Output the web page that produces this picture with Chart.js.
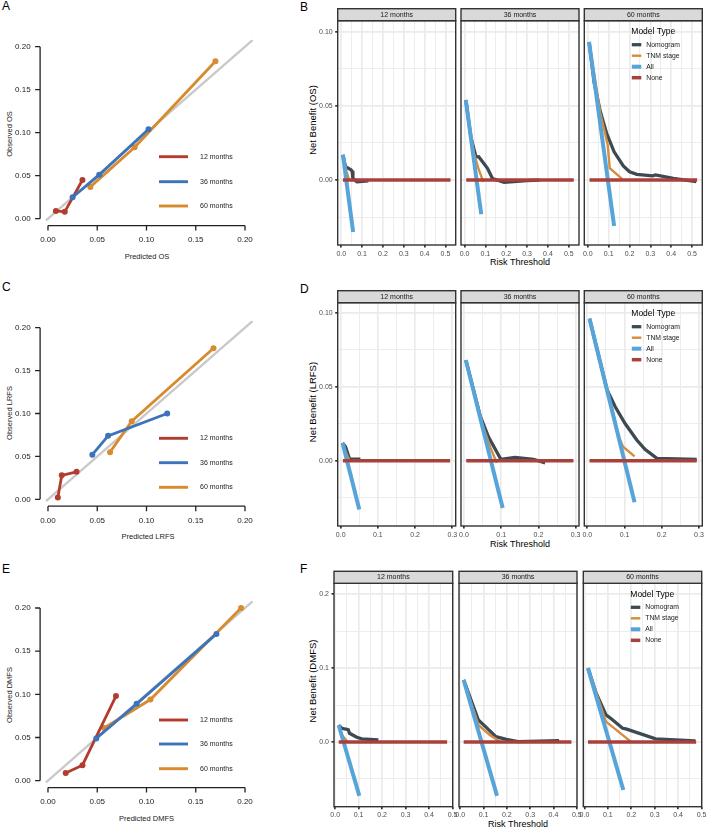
<!DOCTYPE html>
<html lang="en">
<head>
<meta charset="UTF-8">
<title>Calibration and decision curves</title>
<script src="https://cdn.jsdelivr.net/npm/chart.js"></script>
<style>
  body { margin: 0; background: #fff; font-family: "Liberation Sans", Arial, Helvetica, sans-serif; }
  #page { position: relative; width: 708px; height: 829px; overflow: hidden; }
  canvas { position: absolute; }
  .txt { position: absolute; white-space: nowrap; line-height: 1; transform: translate(-50%, -50%); color: #222; }
  .rot { transform: translate(-50%, -50%) rotate(-90deg); }
  .letter { position: absolute; font-size: 12px; line-height: 1; color: #000; }
</style>
</head>
<body>
<div id="page">
  <div class="letter" style="left:2px;top:0px">A</div>
  <div class="letter" style="left:300px;top:1px">B</div>
  <div class="letter" style="left:2px;top:281px">C</div>
  <div class="letter" style="left:300px;top:283px">D</div>
  <div class="letter" style="left:2px;top:563px">E</div>
  <div class="letter" style="left:300px;top:563px">F</div>

  <div class="txt rot" style="left:9.5px;top:134px;font-size:7.5px">Observed OS</div>
  <div class="txt" style="left:147px;top:257px;font-size:7.5px">Predicted OS</div>
  <div class="txt rot" style="left:9.5px;top:413px;font-size:7.5px">Observed LRFS</div>
  <div class="txt" style="left:148px;top:537px;font-size:7.5px">Predicted LRFS</div>
  <div class="txt rot" style="left:9.5px;top:695px;font-size:7.5px">Observed DMFS</div>
  <div class="txt" style="left:146.5px;top:819px;font-size:7.5px">Predicted DMFS</div>

  <div class="txt rot" style="left:313px;top:120px;font-size:9.5px;color:#000">Net Benefit (OS)</div>
  <div class="txt" style="left:520px;top:262px;font-size:9px;color:#000">Risk Threshold</div>
  <div class="txt rot" style="left:313px;top:402px;font-size:9.5px;color:#000">Net Benefit (LRFS)</div>
  <div class="txt" style="left:520px;top:543.5px;font-size:9px;color:#000">Risk Threshold</div>
  <div class="txt rot" style="left:313px;top:681px;font-size:9.5px;color:#000">Net Benefit (DMFS)</div>
  <div class="txt" style="left:518px;top:824px;font-size:9px;color:#000">Risk Threshold</div>
</div>

<script>
  // ---- calibration curves (predicted, observed) ----
  const calibLabels = ['12 months', '36 months', '60 months'];
  const calibTicks = [0, 0.05, 0.1, 0.15, 0.2];
  const idealLine = [[-0.002, -0.002], [0.208, 0.208]];

  const os12 = [[0.008, 0.009], [0.017, 0.008], [0.035, 0.045]];
  const os36 = [[0.025, 0.025], [0.052, 0.051], [0.102, 0.104]];
  const os60 = [[0.043, 0.037], [0.088, 0.083], [0.170, 0.183]];

  const lrfs12 = [[0.010, 0.002], [0.014, 0.028], [0.029, 0.032]];
  const lrfs36 = [[0.045, 0.052], [0.061, 0.074], [0.121, 0.100]];
  const lrfs60 = [[0.063, 0.055], [0.085, 0.091], [0.168, 0.176]];

  const dmfs12 = [[0.018, 0.009], [0.035, 0.018], [0.069, 0.098]];
  const dmfs36 = [[0.049, 0.049], [0.090, 0.089], [0.171, 0.170]];
  const dmfs60 = [[0.057, 0.061], [0.104, 0.094], [0.196, 0.200]];

  // ---- decision curves (threshold, net benefit) ----
  const modelNames = ['Nomogram', 'TNM stage', 'All', 'None'];
  const facetNames = ['12 months', '36 months', '60 months'];

  const osNomogram12 = [[0.008, 0.017], [0.02, 0.009], [0.045, 0.007], [0.052, 0.006], [0.056, 0.001], [0.075, -0.0012], [0.13, -0.0006]];
  const osTnm12 = [[0.008, 0.017], [0.025, 0.006], [0.038, 0.0]];
  const osAll12 = [[0.008, 0.017], [0.057, -0.035]];
  const osNone12 = [[0.008, 0], [0.524, 0]];
  const osNomogram36 = [[0.006, 0.054], [0.03, 0.029], [0.055, 0.0155], [0.068, 0.0157], [0.08, 0.0135], [0.11, 0.0079], [0.134, 0.001], [0.19, -0.0015], [0.3, -0.0004], [0.36, 0]];
  const osTnm36 = [[0.006, 0.054], [0.045, 0.018], [0.066, 0.008], [0.09, -0.0012]];
  const osAll36 = [[0.006, 0.054], [0.08, -0.023]];
  const osNone36 = [[0.008, 0], [0.524, 0]];
  const osNomogram60 = [[0.006, 0.093], [0.03, 0.066], [0.06, 0.046], [0.09, 0.0315], [0.126, 0.019], [0.17, 0.0095], [0.2, 0.0056], [0.235, 0.0038], [0.31, 0.0028], [0.325, 0.0034], [0.41, 0.0011], [0.52, -0.0011]];
  const osTnm60 = [[0.006, 0.093], [0.06, 0.045], [0.095, 0.024], [0.105, 0.008], [0.163, 0.001]];
  const osAll60 = [[0.006, 0.093], [0.126, -0.031]];
  const osNone60 = [[0.008, 0], [0.524, 0]];

  const lrfsNomogram12 = [[0.005, 0.012], [0.013, 0.0095], [0.024, 0.001], [0.053, 0.001]];
  const lrfsTnm12 = [[0.005, 0.012], [0.015, 0.005], [0.024, 0.0]];
  const lrfsAll12 = [[0.005, 0.012], [0.05, -0.033]];
  const lrfsNone12 = [[0.006, 0], [0.294, 0]];
  const lrfsNomogram36 = [[0.005, 0.068], [0.044, 0.03], [0.066, 0.016], [0.099, 0.001], [0.137, 0.0023], [0.187, 0.001], [0.218, -0.0014]];
  const lrfsTnm36 = [[0.005, 0.068], [0.05, 0.024], [0.07, 0.0095], [0.088, -0.0014]];
  const lrfsAll36 = [[0.005, 0.068], [0.104, -0.032]];
  const lrfsNone36 = [[0.006, 0], [0.294, 0]];
  const lrfsNomogram60 = [[0.006, 0.096], [0.053, 0.048], [0.075, 0.0365], [0.102, 0.025], [0.133, 0.014], [0.155, 0.0077], [0.187, 0.0016], [0.294, 0.0009]];
  const lrfsTnm60 = [[0.006, 0.096], [0.085, 0.016], [0.096, 0.0095], [0.127, 0.003]];
  const lrfsAll60 = [[0.006, 0.096], [0.127, -0.028]];
  const lrfsNone60 = [[0.006, 0], [0.294, 0]];

  const dmfsNomogram12 = [[0.015, 0.0226], [0.028, 0.0185], [0.05, 0.0172], [0.056, 0.0165], [0.061, 0.0117], [0.092, 0.0063], [0.113, 0.0041], [0.184, 0.0027]];
  const dmfsTnm12 = [[0.015, 0.0226], [0.028, 0.0095], [0.052, 0.0005]];
  const dmfsAll12 = [[0.015, 0.0226], [0.103, -0.073]];
  const dmfsNone12 = [[0.015, 0], [0.477, 0]];
  const dmfsNomogram36 = [[0.015, 0.084], [0.078, 0.0298], [0.113, 0.0194], [0.153, 0.0072], [0.198, 0.0036], [0.248, 0.0005], [0.424, 0.0018]];
  const dmfsTnm36 = [[0.015, 0.084], [0.078, 0.023], [0.127, 0.0095], [0.17, 0.0005]];
  const dmfsAll36 = [[0.015, 0.084], [0.158, -0.073]];
  const dmfsNone36 = [[0.015, 0], [0.477, 0]];
  const dmfsNomogram60 = [[0.015, 0.1], [0.05, 0.066], [0.092, 0.0366], [0.117, 0.0307], [0.163, 0.0185], [0.177, 0.0176], [0.304, 0.0041], [0.474, 0.0014]];
  const dmfsTnm60 = [[0.015, 0.1], [0.092, 0.0275], [0.198, 0.0005]];
  const dmfsAll60 = [[0.015, 0.1], [0.166, -0.065]];
  const dmfsNone60 = [[0.015, 0], [0.477, 0]];

  // axis breaks (major + minor) for the facet grids
  const xTicksOS = [0, 0.05, 0.1, 0.15, 0.2, 0.25, 0.3, 0.35, 0.4, 0.45, 0.5];
  const yTicksOS = [-0.025, 0, 0.025, 0.05, 0.075, 0.1];
  const xTicksLRFS = [0, 0.05, 0.1, 0.15, 0.2, 0.25, 0.3];
  const yTicksLRFS = [-0.025, 0, 0.025, 0.05, 0.075, 0.1];
  const xTicksDMFS = [0, 0.05, 0.1, 0.15, 0.2, 0.25, 0.3, 0.35, 0.4, 0.45, 0.5];
  const yTicksDMFS = [-0.05, 0, 0.05, 0.1, 0.15, 0.2];

  const FONT = '"Liberation Sans", Arial, Helvetica, sans-serif';
  Chart.defaults.font.family = FONT;
  Chart.defaults.animation = false;

  const calibColors = ['#B23C2D', '#3B74BA', '#D78B2E'];
  const dcaColors = ['#3E4A52', '#D48C3E', '#56A4DA', '#A9403C'];
  const dcaWidths = [3.3, 2.4, 4, 3.5];

  const pts = arr => arr.map(p => ({ x: p[0], y: p[1] }));
  const isMajor = (v, step) => Math.abs(v / step - Math.round(v / step)) < 1e-6;

  function placeCanvas(id, box) {
    const c = document.createElement('canvas');
    c.id = id;
    c.width = box.w; c.height = box.h;
    c.style.left = box.left + 'px'; c.style.top = box.top + 'px';
    c.style.width = box.w + 'px'; c.style.height = box.h + 'px';
    document.getElementById('page').appendChild(c);
    return c.getContext('2d');
  }

  // R-style axes (lines only between first and last tick) plus the inset legend
  const calibDeco = {
    id: 'calibDeco',
    afterDraw(chart, args, opts) {
      const { ctx, chartArea: a, scales: { x, y } } = chart;
      ctx.save();
      ctx.strokeStyle = '#222';
      ctx.lineWidth = 1.3;
      ctx.beginPath();
      ctx.moveTo(x.getPixelForValue(0), a.bottom);
      ctx.lineTo(x.getPixelForValue(0.2), a.bottom);
      ctx.moveTo(a.left, y.getPixelForValue(0));
      ctx.lineTo(a.left, y.getPixelForValue(0.2));
      calibTicks.forEach(v => {
        const px = x.getPixelForValue(v), py = y.getPixelForValue(v);
        ctx.moveTo(px, a.bottom); ctx.lineTo(px, a.bottom + 5);
        ctx.moveTo(a.left, py); ctx.lineTo(a.left - 5, py);
      });
      ctx.stroke();

      ctx.font = '7px ' + FONT;
      ctx.textBaseline = 'middle';
      ctx.textAlign = 'left';
      opts.rows.forEach((ry, i) => {
        const yy = ry - opts.top;
        ctx.strokeStyle = calibColors[i];
        ctx.lineWidth = 2.9;
        ctx.beginPath();
        ctx.moveTo(159 - opts.left, yy); ctx.lineTo(188 - opts.left, yy);
        ctx.stroke();
        ctx.fillStyle = '#222';
        ctx.fillText(calibLabels[i], 200 - opts.left, yy);
      });
      ctx.restore();
    }
  };

  function calibChart(id, box, area, series, rows) {
    const ctx = placeCanvas(id, box);
    const orders = [2, 1, 3];
    const datasets = series.map((s, i) => ({
      label: calibLabels[i],
      data: pts(s),
      showLine: true,
      borderColor: calibColors[i],
      backgroundColor: calibColors[i],
      borderWidth: 2.8,
      pointRadius: 3,
      pointBorderWidth: 0,
      order: orders[i]
    }));
    datasets.push({
      label: 'ideal', data: pts(idealLine), showLine: true,
      borderColor: '#C9C9C9', borderWidth: 2.4, pointRadius: 0, order: 10
    });
    const tickOpts = { autoSkip: false, maxRotation: 0, minRotation: 0, padding: 9.5, color: '#222',
      font: { size: 8 }, callback: v => v.toFixed(2) };
    return new Chart(ctx, {
      type: 'scatter',
      data: { datasets },
      plugins: [calibDeco],
      options: {
        responsive: false,
        devicePixelRatio: 1,
        events: [],
        layout: { padding: { left: 0, top: area.t - box.top, right: box.left + box.w - area.r, bottom: 0 } },
        plugins: {
          legend: { display: false },
          tooltip: { enabled: false },
          calibDeco: { rows, left: box.left, top: box.top }
        },
        scales: {
          x: {
            type: 'linear', min: -0.008, max: 0.208,
            afterBuildTicks: s => { s.ticks = calibTicks.map(v => ({ value: v })); },
            afterFit: s => { s.height = box.top + box.h - area.b; },
            grid: { display: false, drawTicks: false },
            border: { display: false },
            ticks: tickOpts
          },
          y: {
            type: 'linear', min: -0.008, max: 0.208,
            afterBuildTicks: s => { s.ticks = calibTicks.map(v => ({ value: v })); },
            afterFit: s => { s.width = area.l - box.left; },
            grid: { display: false, drawTicks: false },
            border: { display: false },
            ticks: tickOpts
          }
        }
      }
    });
  }

  // ggplot-like facet: panel border, strip, optional legend
  const facetDeco = {
    id: 'facetDeco',
    afterDraw(chart, args, opts) {
      const { ctx, chartArea: a } = chart;
      const w = a.right - a.left;
      ctx.save();
      ctx.strokeStyle = '#333';
      ctx.lineWidth = 1.4;
      ctx.strokeRect(a.left, a.top, w, a.bottom - a.top);
      ctx.fillStyle = '#D9D9D9';
      ctx.fillRect(a.left, a.top - 12, w, 12);
      ctx.strokeRect(a.left, a.top - 12, w, 12);
      ctx.fillStyle = '#1A1A1A';
      ctx.font = '7px ' + FONT;
      ctx.textAlign = 'center';
      ctx.textBaseline = 'middle';
      ctx.fillText(opts.strip, a.left + w / 2, a.top - 5.8);

      if (opts.legend) {
        ctx.textAlign = 'left';
        ctx.fillStyle = '#000';
        ctx.font = '8.5px ' + FONT;
        ctx.fillText('Model Type', a.left + 47, a.top + 11);
        ctx.font = '6.8px ' + FONT;
        modelNames.forEach((name, i) => {
          const yy = a.top + 24 + i * 11;
          ctx.strokeStyle = dcaColors[i];
          ctx.lineWidth = dcaWidths[i];
          ctx.beginPath();
          ctx.moveTo(a.left + 47.5, yy); ctx.lineTo(a.left + 57, yy);
          ctx.stroke();
          ctx.fillStyle = '#222';
          ctx.fillText(name, a.left + 62, yy);
        });
      }
      ctx.restore();
    }
  };

  function dcaFacet(id, area, cfg, series, facetIndex) {
    const first = facetIndex === 0;
    const box = { left: first ? 296 : Math.floor(area.l) - 10, top: Math.floor(area.t) - 14 };
    box.w = Math.ceil(area.r) + 12 - box.left;
    box.h = Math.ceil(area.b) + 20 - box.top;
    const ctx = placeCanvas(id, box);
    const datasets = series.map((s, i) => ({
      label: modelNames[i],
      data: pts(s),
      showLine: true,
      borderColor: dcaColors[i],
      borderWidth: dcaWidths[i],
      pointRadius: 0,
      order: 4 - i
    }));
    const grid = step => ({
      color: '#EBEBEB',
      lineWidth: c => isMajor(c.tick.value, step) ? 1.7 : 0.9,
      tickColor: c => isMajor(c.tick.value, step) ? '#333' : 'rgba(0,0,0,0)',
      tickLength: 2.5
    });
    return new Chart(ctx, {
      type: 'scatter',
      data: { datasets },
      plugins: [facetDeco],
      options: {
        responsive: false,
        devicePixelRatio: 1,
        events: [],
        layout: { padding: {
          left: first ? 0 : area.l - box.left,
          top: area.t - box.top,
          right: box.left + box.w - area.r,
          bottom: 0 } },
        plugins: {
          legend: { display: false },
          tooltip: { enabled: false },
          facetDeco: { strip: facetNames[facetIndex], legend: facetIndex === 2 }
        },
        scales: {
          x: {
            type: 'linear', min: cfg.xMin, max: cfg.xMax,
            afterBuildTicks: s => { s.ticks = cfg.xTicks.map(v => ({ value: v })); },
            afterFit: s => { s.height = box.top + box.h - area.b; },
            grid: Object.assign(grid(0.1), { drawTicks: true }),
            border: { display: false },
            ticks: { autoSkip: false, maxRotation: 0, minRotation: 0, padding: 2, color: '#4D4D4D',
              font: { size: 7 }, callback: v => isMajor(v, 0.1) ? v.toFixed(1) : '' }
          },
          y: {
            type: 'linear', min: cfg.yMin, max: cfg.yMax,
            afterBuildTicks: s => { s.ticks = cfg.yTicks.map(v => ({ value: v })); },
            afterFit: s => { s.width = first ? area.l - box.left : 0; },
            grid: Object.assign(grid(cfg.yMajor), { drawTicks: first }),
            border: { display: false },
            ticks: { display: first, autoSkip: false, padding: 2.5, color: '#4D4D4D',
              font: { size: 7 }, callback: v => isMajor(v, cfg.yMajor) ? v.toFixed(cfg.yDigits) : '' }
          }
        }
      }
    });
  }

  // ---- calibration panels ----
  calibChart('calA', { left: 0, top: 0, w: 272, h: 268 }, { l: 40.1, r: 252.9, t: 39.8, b: 225.6 },
    [os12, os36, os60], [156.7, 181.7, 206]);
  calibChart('calC', { left: 0, top: 272, w: 272, h: 268 }, { l: 40.1, r: 252.9, t: 320.8, b: 506.2 },
    [lrfs12, lrfs36, lrfs60], [438.3, 462.7, 487.3]);
  calibChart('calE', { left: 0, top: 545, w: 272, h: 284 }, { l: 40.1, r: 252.9, t: 601.1, b: 787.6 },
    [dmfs12, dmfs36, dmfs60], [720, 744, 768.7]);

  // ---- decision curve panels ----
  const cfgOS = { xMin: -0.017, xMax: 0.549, xTicks: xTicksOS, yMin: -0.0438, yMax: 0.1074, yTicks: yTicksOS, yMajor: 0.05, yDigits: 2 };
  const cfgLRFS = { xMin: -0.008, xMax: 0.309, xTicks: xTicksLRFS, yMin: -0.0441, yMax: 0.1068, yTicks: yTicksLRFS, yMajor: 0.05, yDigits: 2 };
  const cfgDMFS = { xMin: -0.005, xMax: 0.5008, xTicks: xTicksDMFS, yMin: -0.0877, yMax: 0.2149, yTicks: yTicksDMFS, yMajor: 0.1, yDigits: 1 };

  const colsBD = [[337.7, 455.7], [461, 579], [584.3, 702.3]];
  const colsF = [[334, 452.7], [459, 577], [583.3, 701.7]];

  const osSeries = [
    [osNomogram12, osTnm12, osAll12, osNone12],
    [osNomogram36, osTnm36, osAll36, osNone36],
    [osNomogram60, osTnm60, osAll60, osNone60]
  ];
  const lrfsSeries = [
    [lrfsNomogram12, lrfsTnm12, lrfsAll12, lrfsNone12],
    [lrfsNomogram36, lrfsTnm36, lrfsAll36, lrfsNone36],
    [lrfsNomogram60, lrfsTnm60, lrfsAll60, lrfsNone60]
  ];
  const dmfsSeries = [
    [dmfsNomogram12, dmfsTnm12, dmfsAll12, dmfsNone12],
    [dmfsNomogram36, dmfsTnm36, dmfsAll36, dmfsNone36],
    [dmfsNomogram60, dmfsTnm60, dmfsAll60, dmfsNone60]
  ];

  [0, 1, 2].forEach(i => {
    dcaFacet('dcaB' + i, { l: colsBD[i][0], r: colsBD[i][1], t: 20.7, b: 245 }, cfgOS, osSeries[i], i);
    dcaFacet('dcaD' + i, { l: colsBD[i][0], r: colsBD[i][1], t: 302.7, b: 526 }, cfgLRFS, lrfsSeries[i], i);
    dcaFacet('dcaF' + i, { l: colsF[i][0], r: colsF[i][1], t: 583.3, b: 806.7 }, cfgDMFS, dmfsSeries[i], i);
  });
</script>
</body>
</html>
